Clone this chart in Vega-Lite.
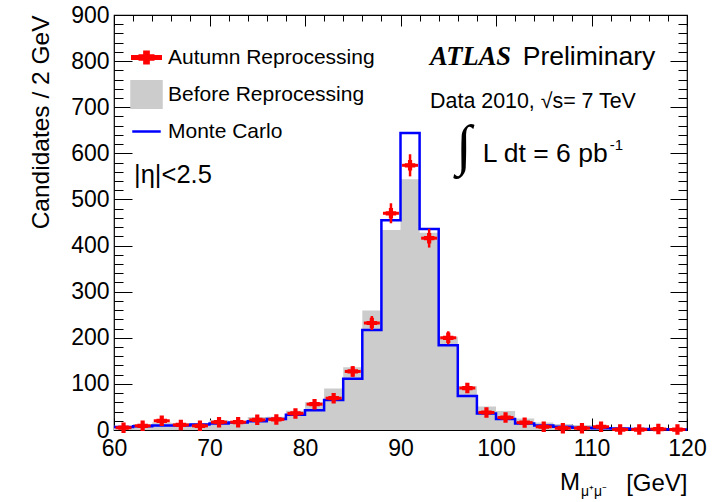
{
  "$schema": "https://vega.github.io/schema/vega-lite/v6.json",
  "width": 573,
  "height": 415,
  "autosize": {"type": "none"},
  "padding": {"left": 114, "top": 15, "right": 33, "bottom": 72},
  "background": "white",
  "config": {
    "view": {"stroke": "#000", "strokeWidth": 1.2},
    "font": "Liberation Sans",
    "axis": {
      "labelFont": "Liberation Sans",
      "labelFontSize": 23,
      "labelColor": "#000",
      "tickColor": "#000",
      "tickWidth": 1,
      "domain": false,
      "grid": false,
      "zindex": 1,
      "titleFont": "Liberation Sans",
      "titleFontWeight": "normal",
      "titleColor": "#000",
      "labelFlush": false,
      "labelOverlap": false
    }
  },
  "datasets": {
    "hist": [
      {"lo": 60, "hi": 62, "mid": 61, "before": 9, "after": 5, "mc": 6.5, "elo": 2.8, "ehi": 7.2},
      {"lo": 62, "hi": 64, "mid": 63, "before": 13, "after": 9, "mc": 8, "elo": 6, "ehi": 12},
      {"lo": 64, "hi": 66, "mid": 65, "before": 16, "after": 20, "mc": 9.5, "elo": 15.5, "ehi": 24.5},
      {"lo": 66, "hi": 68, "mid": 67, "before": 15, "after": 11, "mc": 10, "elo": 7.7, "ehi": 14.3},
      {"lo": 68, "hi": 70, "mid": 69, "before": 15, "after": 9, "mc": 12, "elo": 6, "ehi": 12},
      {"lo": 70, "hi": 72, "mid": 71, "before": 21, "after": 17, "mc": 14, "elo": 12.9, "ehi": 21.1},
      {"lo": 72, "hi": 74, "mid": 73, "before": 18, "after": 17, "mc": 16, "elo": 12.9, "ehi": 21.1},
      {"lo": 74, "hi": 76, "mid": 75, "before": 28, "after": 22, "mc": 19, "elo": 17.3, "ehi": 26.7},
      {"lo": 76, "hi": 78, "mid": 77, "before": 29, "after": 23, "mc": 24, "elo": 18.2, "ehi": 27.8},
      {"lo": 78, "hi": 80, "mid": 79, "before": 42, "after": 36, "mc": 33, "elo": 30, "ehi": 42},
      {"lo": 80, "hi": 82, "mid": 81, "before": 60, "after": 56, "mc": 43, "elo": 48.5, "ehi": 63.5},
      {"lo": 82, "hi": 84, "mid": 83, "before": 90, "after": 69, "mc": 65, "elo": 60.7, "ehi": 77.3},
      {"lo": 84, "hi": 86, "mid": 85, "before": 136, "after": 127, "mc": 111, "elo": 115.7, "ehi": 138.3},
      {"lo": 86, "hi": 88, "mid": 87, "before": 259, "after": 232, "mc": 217, "elo": 216.8, "ehi": 247.2},
      {"lo": 88, "hi": 90, "mid": 89, "before": 434, "after": 470, "mc": 455, "elo": 448.3, "ehi": 491.7},
      {"lo": 90, "hi": 92, "mid": 91, "before": 544, "after": 574, "mc": 644, "elo": 550, "ehi": 598},
      {"lo": 92, "hi": 94, "mid": 93, "before": 428, "after": 416, "mc": 436, "elo": 395.6, "ehi": 436.4},
      {"lo": 94, "hi": 96, "mid": 95, "before": 202, "after": 200, "mc": 184, "elo": 185.9, "ehi": 214.1},
      {"lo": 96, "hi": 98, "mid": 97, "before": 95, "after": 91, "mc": 74, "elo": 81.5, "ehi": 100.5},
      {"lo": 98, "hi": 100, "mid": 99, "before": 51, "after": 38, "mc": 36, "elo": 31.8, "ehi": 44.2},
      {"lo": 100, "hi": 102, "mid": 101, "before": 41, "after": 27, "mc": 24, "elo": 21.8, "ehi": 32.2},
      {"lo": 102, "hi": 104, "mid": 103, "before": 25, "after": 16, "mc": 14, "elo": 12, "ehi": 20},
      {"lo": 104, "hi": 106, "mid": 105, "before": 16, "after": 7, "mc": 10, "elo": 4.4, "ehi": 9.6},
      {"lo": 106, "hi": 108, "mid": 107, "before": 13, "after": 4, "mc": 7, "elo": 2, "ehi": 6},
      {"lo": 108, "hi": 110, "mid": 109, "before": 11, "after": 4, "mc": 5, "elo": 2, "ehi": 6},
      {"lo": 110, "hi": 112, "mid": 111, "before": 7, "after": 7, "mc": 4, "elo": 4.4, "ehi": 9.6},
      {"lo": 112, "hi": 114, "mid": 113, "before": 4, "after": 1, "mc": 3, "elo": 0, "ehi": 2},
      {"lo": 114, "hi": 116, "mid": 115, "before": 3, "after": 1, "mc": 2, "elo": 0, "ehi": 2},
      {"lo": 116, "hi": 118, "mid": 117, "before": 2, "after": 2, "mc": 1.5, "elo": 0.6, "ehi": 3.4},
      {"lo": 118, "hi": 120, "mid": 119, "before": 2, "after": 1, "mc": 1, "elo": 0, "ehi": 2}
    ],
    "edges": [
      {"edge": 60, "mc": 6.5, "before": 9}, {"edge": 62, "mc": 8, "before": 13}, {"edge": 64, "mc": 9.5, "before": 16}, {"edge": 66, "mc": 10, "before": 15},
      {"edge": 68, "mc": 12, "before": 15}, {"edge": 70, "mc": 14, "before": 21}, {"edge": 72, "mc": 16, "before": 18}, {"edge": 74, "mc": 19, "before": 28},
      {"edge": 76, "mc": 24, "before": 29}, {"edge": 78, "mc": 33, "before": 42}, {"edge": 80, "mc": 43, "before": 60}, {"edge": 82, "mc": 65, "before": 90},
      {"edge": 84, "mc": 111, "before": 136}, {"edge": 86, "mc": 217, "before": 259}, {"edge": 88, "mc": 455, "before": 434}, {"edge": 90, "mc": 644, "before": 544},
      {"edge": 92, "mc": 436, "before": 428}, {"edge": 94, "mc": 184, "before": 202}, {"edge": 96, "mc": 74, "before": 95}, {"edge": 98, "mc": 36, "before": 51},
      {"edge": 100, "mc": 24, "before": 41}, {"edge": 102, "mc": 14, "before": 25}, {"edge": 104, "mc": 10, "before": 16}, {"edge": 106, "mc": 7, "before": 13},
      {"edge": 108, "mc": 5, "before": 11}, {"edge": 110, "mc": 4, "before": 7}, {"edge": 112, "mc": 3, "before": 4}, {"edge": 114, "mc": 2, "before": 3},
      {"edge": 116, "mc": 1.5, "before": 2}, {"edge": 118, "mc": 1, "before": 2}, {"edge": 120, "mc": 1, "before": 2}
    ]
  },
  "layer": [
    {
      "data": {"name": "edges"},
      "mark": {"type": "area", "interpolate": "step-after", "color": "#cccccc", "opacity": 1},
      "encoding": {
        "x": {"field": "edge", "type": "quantitative", "scale": {"domain": [60, 120], "nice": false, "zero": false},
          "axis": {"orient": "bottom", "values": [60, 70, 80, 90, 100, 110, 120], "tickSize": -12, "labelPadding": 19, "format": "d",
            "title": "[GeV]", "titleFontSize": 24, "titleAnchor": "end", "titlePadding": 11}},
        "y": {"field": "before", "type": "quantitative", "scale": {"domain": [0, 900], "nice": false},
          "axis": {"orient": "left", "values": [0, 100, 200, 300, 400, 500, 600, 700, 800, 900], "tickSize": -18, "labelPadding": 23, "format": "d",
            "title": "Candidates / 2 GeV", "titleFontSize": 24.5, "titleAnchor": "end", "titlePadding": 17}}
      }
    },
    {
      "data": {"name": "edges"},
      "mark": {"type": "line", "interpolate": "step-after", "strokeWidth": 2.5},
      "encoding": {
        "x": {"field": "edge", "type": "quantitative", "scale": {"domain": [60, 120], "nice": false, "zero": false},
          "axis": {"orient": "bottom", "values": [62, 64, 66, 68, 72, 74, 76, 78, 82, 84, 86, 88, 92, 94, 96, 98, 102, 104, 106, 108, 112, 114, 116, 118], "tickSize": -6, "labels": false, "title": null}},
        "y": {"field": "mc", "type": "quantitative",
          "axis": {"orient": "left", "values": [20, 40, 60, 80, 120, 140, 160, 180, 220, 240, 260, 280, 320, 340, 360, 380, 420, 440, 460, 480, 520, 540, 560, 580, 620, 640, 660, 680, 720, 740, 760, 780, 820, 840, 860, 880], "tickSize": -9, "labels": false, "title": null}},
        "color": {"datum": "Monte Carlo", "type": "nominal",
          "scale": {"domain": ["Autumn Reprocessing", "Before Reprocessing", "Monte Carlo"], "range": ["#ff0000", "#cccccc", "#0000ff"]},
          "legend": {
            "title": null, "orient": "none", "legendX": 16, "legendY": 26,
            "symbolSize": 900, "labelFontSize": 21, "labelFont": "Liberation Sans", "labelColor": "#000", "labelOffset": 5, "labelLimit": 0, "rowPadding": 0,
            "encode": {"symbols": {"update": {
              "shape": {"signal": "datum.value === 'Monte Carlo' ? 'M-0.95,0H0.95 M0,-0.88Z M0,0.88Z' : datum.value === 'Before Reprocessing' ? 'M-1,-0.88H1V0.88H-1Z' : 'M-0.95,-0.09H0.95V0.09H-0.95Z M-0.45,-0.14H0.45V0.14H-0.45Z M-0.14,-0.38H0.14V0.38H-0.14Z M0,-0.88Z M0,0.88Z'"},
              "fill": {"signal": "datum.value === 'Monte Carlo' ? 'transparent' : datum.value === 'Before Reprocessing' ? '#cccccc' : '#ff0000'"},
              "stroke": {"signal": "datum.value === 'Monte Carlo' ? '#0000ff' : 'transparent'"},
              "strokeWidth": {"value": 2.5},
              "opacity": {"value": 1},
              "fillOpacity": {"value": 1}
            }}}
          }}
      }
    },
    {
      "data": {"name": "hist"},
      "mark": {"type": "rule", "color": "#ff0000", "strokeWidth": 2.5},
      "encoding": {
        "x": {"field": "mid", "type": "quantitative",
          "axis": {"orient": "top", "values": [60, 70, 80, 90, 100, 110, 120], "tickSize": -11, "labels": false, "title": null}},
        "y": {"field": "elo", "type": "quantitative",
          "axis": {"orient": "right", "values": [0, 100, 200, 300, 400, 500, 600, 700, 800, 900], "tickSize": -17, "labels": false, "title": null}},
        "y2": {"field": "ehi"}
      }
    },
    {
      "data": {"name": "hist"},
      "mark": {"type": "tick", "orient": "horizontal", "color": "#ff0000", "thickness": 3, "size": 16, "opacity": 1},
      "encoding": {
        "x": {"field": "mid", "type": "quantitative",
          "axis": {"orient": "top", "values": [62, 64, 66, 68, 72, 74, 76, 78, 82, 84, 86, 88, 92, 94, 96, 98, 102, 104, 106, 108, 112, 114, 116, 118], "tickSize": -6, "labels": false, "title": null}},
        "y": {"field": "after", "type": "quantitative",
          "axis": {"orient": "right", "values": [20, 40, 60, 80, 120, 140, 160, 180, 220, 240, 260, 280, 320, 340, 360, 380, 420, 440, 460, 480, 520, 540, 560, 580, 620, 640, 660, 680, 720, 740, 760, 780, 820, 840, 860, 880], "tickSize": -9, "labels": false, "title": null}}
      }
    },
    {
      "data": {"name": "hist"},
      "mark": {"type": "point", "shape": "cross", "filled": true, "size": 110, "opacity": 1},
      "encoding": {
        "x": {"field": "mid", "type": "quantitative", "axis": null},
        "y": {"field": "after", "type": "quantitative", "axis": null},
        "color": {"datum": "Autumn Reprocessing", "type": "nominal"}
      }
    },
    {
      "data": {"values": [{"t": "ATLAS"}]},
      "mark": {"type": "text", "font": "Liberation Serif", "fontStyle": "italic", "fontWeight": "bold", "fontSize": 26.5, "align": "left", "baseline": "alphabetic", "color": "#000"},
      "encoding": {"x": {"datum": 93.1, "type": "quantitative", "axis": null}, "y": {"datum": 792, "type": "quantitative", "axis": null}, "text": {"field": "t"}}
    },
    {
      "data": {"values": [{"t": "Preliminary"}]},
      "mark": {"type": "text", "font": "Liberation Sans", "fontSize": 26.5, "align": "left", "baseline": "alphabetic", "color": "#000"},
      "encoding": {"x": {"datum": 102.8, "type": "quantitative", "axis": null}, "y": {"datum": 792, "type": "quantitative", "axis": null}, "text": {"field": "t"}}
    },
    {
      "data": {"values": [{"t": "Data 2010, √s= 7 TeV"}]},
      "mark": {"type": "text", "font": "Liberation Sans", "fontSize": 21.4, "align": "left", "baseline": "alphabetic", "color": "#000"},
      "encoding": {"x": {"datum": 93.1, "type": "quantitative", "axis": null}, "y": {"datum": 698, "type": "quantitative", "axis": null}, "text": {"field": "t"}}
    },
    {
      "data": {"values": [{"t": "∫"}]},
      "mark": {"type": "text", "font": "Liberation Serif", "fontSize": 56, "align": "left", "baseline": "middle", "color": "#000"},
      "encoding": {"x": {"datum": 95.8, "type": "quantitative", "axis": null}, "y": {"datum": 614, "type": "quantitative", "axis": null}, "text": {"field": "t"}}
    },
    {
      "data": {"values": [{"t": "L dt = 6 pb"}]},
      "mark": {"type": "text", "font": "Liberation Sans", "fontSize": 26.5, "align": "left", "baseline": "alphabetic", "color": "#000"},
      "encoding": {"x": {"datum": 98.6, "type": "quantitative", "axis": null}, "y": {"datum": 581, "type": "quantitative", "axis": null}, "text": {"field": "t"}}
    },
    {
      "data": {"values": [{"t": "-1"}]},
      "mark": {"type": "text", "font": "Liberation Sans", "fontSize": 15, "align": "left", "baseline": "alphabetic", "color": "#000"},
      "encoding": {"x": {"datum": 111.9, "type": "quantitative", "axis": null}, "y": {"datum": 607, "type": "quantitative", "axis": null}, "text": {"field": "t"}}
    },
    {
      "data": {"values": [{"t": "|η|<2.5"}]},
      "mark": {"type": "text", "font": "Liberation Sans", "fontSize": 25.5, "align": "left", "baseline": "alphabetic", "color": "#000"},
      "encoding": {"x": {"datum": 62.1, "type": "quantitative", "axis": null}, "y": {"datum": 536, "type": "quantitative", "axis": null}, "text": {"field": "t"}}
    },
    {
      "data": {"values": [{"t": "M"}]},
      "mark": {"type": "text", "font": "Liberation Sans", "fontSize": 24, "align": "left", "baseline": "alphabetic", "color": "#000"},
      "encoding": {"x": {"datum": 106.7, "type": "quantitative", "axis": null}, "y": {"datum": -130, "type": "quantitative", "axis": null}, "text": {"field": "t"}}
    },
    {
      "data": {"values": [{"t": "μ⁺μ⁻"}]},
      "mark": {"type": "text", "font": "Liberation Sans", "fontSize": 14, "align": "left", "baseline": "alphabetic", "color": "#000"},
      "encoding": {"x": {"datum": 108.9, "type": "quantitative", "axis": null}, "y": {"datum": -143, "type": "quantitative", "axis": null}, "text": {"field": "t"}}
    }
  ],
  "resolve": {"axis": {"x": "independent", "y": "independent"}, "scale": {"x": "shared", "y": "shared"}}
}
